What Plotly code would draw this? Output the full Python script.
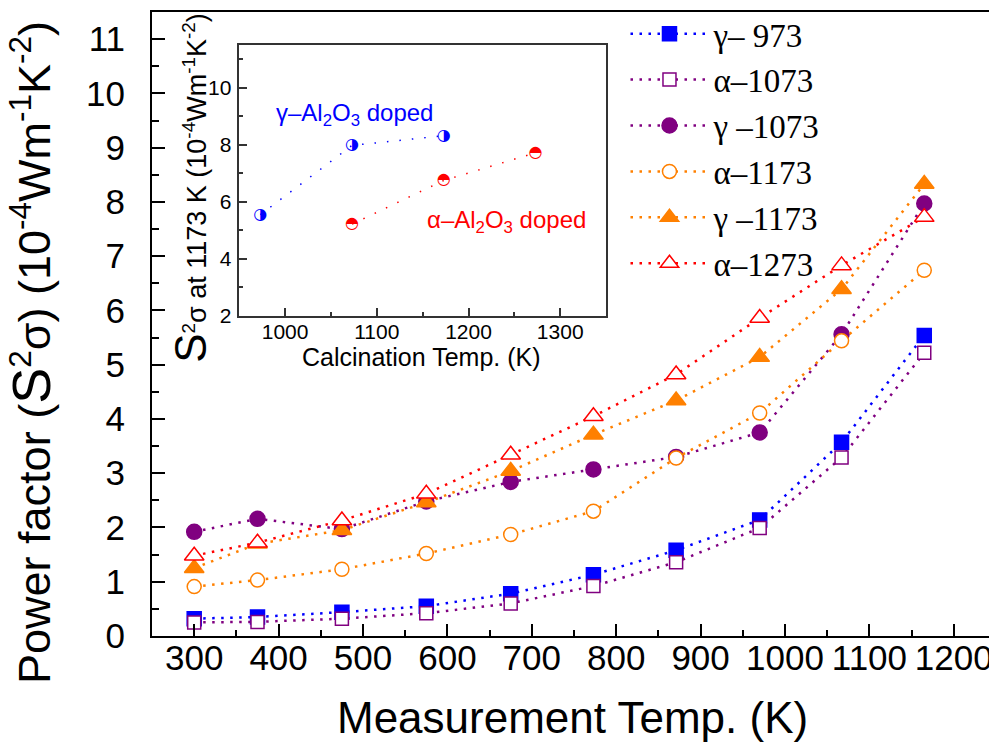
import plotly.graph_objects as go

# ---------------- data ----------------
temps = [300, 375, 475, 575, 675, 773, 871, 970, 1067, 1165]

series_names = ["γ– 973", "α–1073", "γ –1073", "α–1173", "γ –1173", "α–1273"]
g973 = [0.32, 0.35, 0.44, 0.55, 0.78, 1.13, 1.58, 2.14, 3.57, 5.54]
a1073 = [0.25, 0.26, 0.32, 0.42, 0.60, 0.92, 1.36, 1.99, 3.29, 5.22]
g1073 = [1.92, 2.16, 1.97, 2.48, 2.84, 3.07, 3.30, 3.75, 5.56, 7.97]
a1173 = [0.91, 1.03, 1.23, 1.52, 1.87, 2.30, 3.28, 4.11, 5.44, 6.74]
g1173 = [1.25, 1.70, 1.95, 2.46, 3.04, 3.71, 4.34, 5.14, 6.39, 8.33]
a1273 = [1.48, 1.72, 2.13, 2.62, 3.34, 4.05, 4.82, 5.86, 6.83, 7.72]

# inset: power factor at 1173 K vs calcination temperature
calc_gamma = [973, 1073, 1173]
pf_gamma = [5.55, 7.98, 8.32]
calc_alpha = [1073, 1173, 1273]
pf_alpha = [5.22, 6.75, 7.72]

x_ticks = list(range(300, 1201, 100))
y_ticks = list(range(0, 12))
inset_x_ticks = [1000, 1100, 1200, 1300]
inset_y_ticks = [2, 4, 6, 8, 10]

# ---------------- styles ----------------
BLUE = "#0000FF"
PURPLE = "#800080"
ORANGE = "#FF8000"
RED = "#FF0000"
DASH = "2.5px,6.5px"

styles = [
    dict(color=BLUE, symbol="square", fill=BLUE, size=14),
    dict(color=PURPLE, symbol="square", fill="white", size=13),
    dict(color=PURPLE, symbol="circle", fill=PURPLE, size=15),
    dict(color=ORANGE, symbol="circle", fill="white", size=14),
    dict(color=ORANGE, symbol="triangle-up", fill=ORANGE, size=17),
    dict(color=RED, symbol="triangle-up", fill="white", size=17),
]
all_series = [g973, a1073, g1073, a1173, g1173, a1273]

fig = go.Figure()
for i, (name, vals, st) in enumerate(zip(series_names, all_series, styles)):
    fig.add_trace(go.Scatter(
        x=temps, y=vals, name=name, mode="lines+markers",
        legendgroup=f"g{i}",
        line=dict(color=st["color"], width=2.5, dash=DASH),
        marker=dict(symbol=st["symbol"], size=st["size"], color=st["fill"],
                    line=dict(color=st["color"], width=1.5)),
        xaxis="x", yaxis="y",
    ))

# inset traces
fig.add_trace(go.Scatter(
    x=calc_gamma, y=pf_gamma, mode="lines+text", text=["◑"] * len(calc_gamma),
    textposition="middle center",
    textfont=dict(family="DejaVu Sans", size=16, color=BLUE),
    line=dict(color=BLUE, width=1.5, dash="1.5px,11px"),
    showlegend=False, xaxis="x2", yaxis="y2"))
fig.add_trace(go.Scatter(
    x=calc_alpha, y=pf_alpha, mode="lines+text", text=["◓"] * len(calc_alpha),
    textposition="middle center",
    textfont=dict(family="DejaVu Sans", size=16, color=RED),
    line=dict(color=RED, width=1.5, dash="1.5px,11px"),
    showlegend=False, xaxis="x2", yaxis="y2"))

SANS = "Liberation Sans, Arial, sans-serif"
SERIF = "Liberation Serif, Times New Roman, serif"

fig.update_layout(
    width=989, height=738,
    margin=dict(l=144, r=1, t=4, b=110, autoexpand=False),
    paper_bgcolor="white", plot_bgcolor="white",
    font=dict(family=SANS, color="black"),
    showlegend=True,
    legend=dict(
        x=0.561, y=1.01, xanchor="left", yanchor="top",
        font=dict(family=SERIF, size=33, color="black"),
        bgcolor="rgba(255,255,255,0)", borderwidth=0,
        itemwidth=78, traceorder="grouped", tracegroupgap=0,
    ),
    xaxis=dict(
        domain=[0, 1], range=[250, 1250], tickvals=x_ticks,
        ticks="inside", ticklen=12, tickwidth=2, tickcolor="black",
        minor=dict(dtick=50, ticks="inside", ticklen=6, tickwidth=2, tickcolor="black"),
        showline=True, linewidth=2, linecolor="black", mirror=True,
        showgrid=False, zeroline=False,
        tickfont=dict(family=SANS, size=35, color="black"),
        ticklabelstandoff=-10,
    ),
    yaxis=dict(
        domain=[0, 1], range=[0, 11.5], tickvals=y_ticks,
        ticks="inside", ticklen=13, tickwidth=2, tickcolor="black",
        minor=dict(dtick=0.5, ticks="inside", ticklen=7, tickwidth=2, tickcolor="black"),
        showline=True, linewidth=2, linecolor="black", mirror=True,
        showgrid=False, zeroline=False,
        tickfont=dict(family=SANS, size=35, color="black"),
        ticklabelstandoff=18,
    ),
    xaxis2=dict(
        domain=[0.1034, 0.538], anchor="y2", range=[950, 1350], tickvals=inset_x_ticks,
        ticks="inside", ticklen=8, tickwidth=1.5, tickcolor="#333",
        minor=dict(dtick=50, ticks="inside", ticklen=4, tickwidth=1.5, tickcolor="#333"),
        showline=True, linewidth=1.5, linecolor="#333", mirror=True,
        showgrid=False, zeroline=False,
        tickfont=dict(family=SANS, size=21, color="black"),
        ticklabelstandoff=-4,
    ),
    yaxis2=dict(
        domain=[0.513, 0.947], anchor="x2", range=[2, 11.5], tickvals=inset_y_ticks,
        ticks="inside", ticklen=8, tickwidth=1.5, tickcolor="#333",
        minor=dict(dtick=1, ticks="inside", ticklen=4, tickwidth=1.5, tickcolor="#333"),
        showline=True, linewidth=1.5, linecolor="#333", mirror=True,
        showgrid=False, zeroline=False,
        tickfont=dict(family=SANS, size=21, color="black"),
        ticklabelstandoff=2,
    ),
    annotations=[
        dict(text="Measurement Temp. (K)", xref="paper", yref="paper",
             x=0.4988, y=-0.1314, xanchor="center", yanchor="middle",
             showarrow=False, font=dict(family=SANS, size=44, color="black")),
        dict(text="Power factor (<span style='font-size:54px'>S</span><sup>2</sup>σ) (10<sup>-4</sup>Wm<sup>-1</sup>K<sup>-2</sup>)",
             xref="paper", yref="paper", x=-0.1435, y=0.455,
             xanchor="center", yanchor="middle", textangle=-90,
             showarrow=False, font=dict(family=SANS, size=45, color="black")),
        dict(text="Calcination Temp. (K)", xref="paper", yref="paper",
             x=0.3195, y=0.4476, xanchor="center", yanchor="middle",
             showarrow=False, font=dict(family=SANS, size=25, color="black")),
        dict(text="<span style='font-size:44px'>S</span><sup>2</sup>σ at 1173 K (10<sup>-4</sup>Wm<sup>-1</sup>K<sup>-2</sup>)",
             xref="paper", yref="paper", x=0.0460, y=0.718,
             xanchor="center", yanchor="middle", textangle=-90,
             showarrow=False, font=dict(family=SANS, size=27, color="black")),
        dict(text="γ–Al<sub>2</sub>O<sub>3</sub> doped", xref="x2", yref="y2",
             x=1076, y=9.05, xanchor="center", yanchor="middle",
             showarrow=False, font=dict(family=SANS, size=24, color=BLUE)),
        dict(text="α–Al<sub>2</sub>O<sub>3</sub> doped", xref="x2", yref="y2",
             x=1241, y=5.31, xanchor="center", yanchor="middle",
             showarrow=False, font=dict(family=SANS, size=24, color=RED)),
    ],
)

fig.write_html("out.html")
